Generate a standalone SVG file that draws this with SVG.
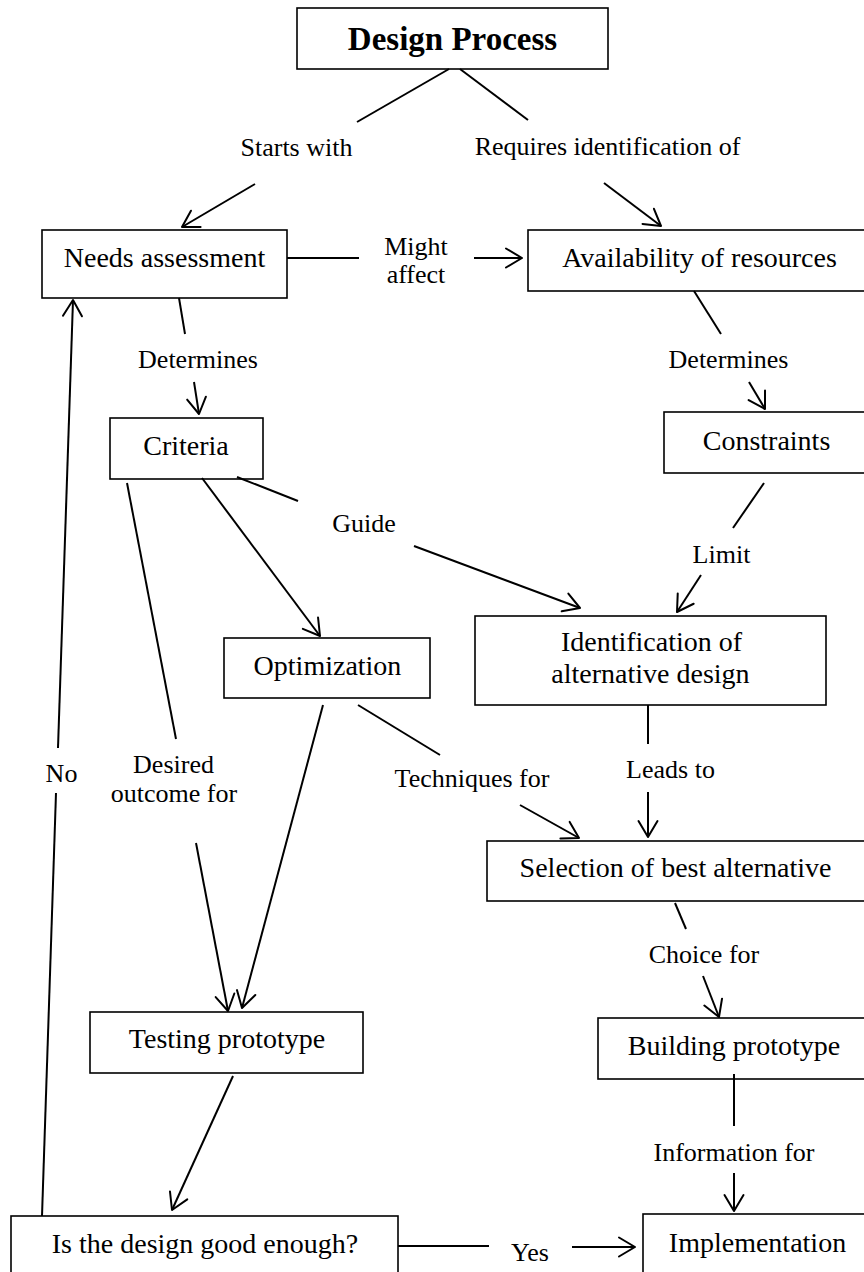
<svg xmlns="http://www.w3.org/2000/svg" width="864" height="1272" viewBox="0 0 864 1272">
<style>
.box{fill:#fff;stroke:#000;stroke-width:1.6}
.nt{font-family:"Liberation Serif","Times New Roman",serif;font-size:28px;fill:#000;text-anchor:middle}
.tt{font-family:"Liberation Serif","Times New Roman",serif;font-size:33px;font-weight:bold;fill:#000;text-anchor:middle}
.lb{font-family:"Liberation Serif","Times New Roman",serif;font-size:26px;fill:#000;text-anchor:middle}
.c line{stroke:#000;stroke-width:2;fill:none}
.c line.a{marker-end:url(#ah)}
</style>
<defs>
<marker id="ah" markerUnits="userSpaceOnUse" viewBox="-20 -12 24 24" refX="0" refY="0" markerWidth="24" markerHeight="24" orient="auto">
<path d="M-16,-9.5 L0,0 L-16,9.5" fill="none" stroke="#000" stroke-width="2" stroke-linejoin="round" stroke-linecap="round"/>
</marker>
</defs>
<rect width="864" height="1272" fill="#fff"/>
<g id="n-design"><rect class="box" x="297" y="8" width="311" height="61"/><text class="tt" x="452.5" y="50">Design Process</text></g>
<g id="n-needs"><rect class="box" x="42" y="230" width="245" height="68"/><text class="nt" x="164.5" y="267">Needs assessment</text></g>
<g id="n-avail"><rect class="box" x="528" y="230" width="342" height="61"/><text class="nt" x="699.5" y="267">Availability of resources</text></g>
<g id="n-criteria"><rect class="box" x="110" y="418" width="153" height="61"/><text class="nt" x="186" y="455">Criteria</text></g>
<g id="n-constraints"><rect class="box" x="664" y="412" width="206" height="61"/><text class="nt" x="766.5" y="450">Constraints</text></g>
<g id="n-optimization"><rect class="box" x="224" y="638" width="206" height="60"/><text class="nt" x="327.5" y="675">Optimization</text></g>
<g id="n-identification"><rect class="box" x="475" y="616" width="351" height="89"/><text class="nt" x="651.5" y="651">Identification of</text><text class="nt" x="650.5" y="683">alternative design</text></g>
<g id="n-selection"><rect class="box" x="487" y="841" width="383" height="60"/><text class="nt" x="675.5" y="877">Selection of best alternative</text></g>
<g id="n-testing"><rect class="box" x="90" y="1012" width="273" height="61"/><text class="nt" x="227" y="1048">Testing prototype</text></g>
<g id="n-building"><rect class="box" x="598" y="1018" width="272" height="61"/><text class="nt" x="734" y="1055">Building prototype</text></g>
<g id="n-isgood"><rect class="box" x="11" y="1216" width="387" height="64"/><text class="nt" x="205" y="1253">Is the design good enough?</text></g>
<g id="n-implementation"><rect class="box" x="643" y="1214" width="227" height="66"/><text class="nt" x="757.5" y="1252">Implementation</text></g>
<g id="connectors" class="c">
<line x1="449" y1="69" x2="357" y2="122"/>
<line class="a" x1="255" y1="184" x2="182" y2="227"/>
<line x1="460" y1="69" x2="528" y2="120"/>
<line class="a" x1="604" y1="183" x2="661" y2="226"/>
<line x1="287" y1="258" x2="359" y2="258"/>
<line class="a" x1="474" y1="258" x2="522" y2="258"/>
<line x1="179" y1="298" x2="185" y2="334"/>
<line class="a" x1="194" y1="382" x2="199" y2="414"/>
<line x1="694" y1="291" x2="721" y2="334"/>
<line class="a" x1="749" y1="382" x2="765" y2="409"/>
<line x1="764" y1="483" x2="733" y2="528"/>
<line class="a" x1="701" y1="575" x2="677" y2="612"/>
<line x1="237" y1="477" x2="298" y2="501"/>
<line class="a" x1="414" y1="546" x2="580" y2="608"/>
<line class="a" x1="202" y1="478" x2="320" y2="636"/>
<line x1="127" y1="483" x2="176" y2="739"/>
<line class="a" x1="196" y1="843" x2="228" y2="1011"/>
<line class="a" x1="323" y1="705" x2="242" y2="1008"/>
<line x1="358" y1="705" x2="440" y2="755"/>
<line class="a" x1="520" y1="805" x2="579" y2="838"/>
<line x1="648" y1="705" x2="648" y2="744"/>
<line class="a" x1="648" y1="792" x2="648" y2="837"/>
<line x1="675" y1="903" x2="686" y2="929"/>
<line class="a" x1="703" y1="976" x2="719" y2="1017"/>
<line x1="734" y1="1074" x2="734" y2="1126"/>
<line class="a" x1="734" y1="1173" x2="734" y2="1211"/>
<line x1="398" y1="1246" x2="489" y2="1246"/>
<line class="a" x1="572" y1="1247" x2="635" y2="1247"/>
<line class="a" x1="233" y1="1076" x2="172" y2="1210"/>
<line x1="42" y1="1216" x2="56" y2="793"/>
<line class="a" x1="58" y1="748" x2="73" y2="300"/>
</g>
<g id="labels">
<text class="lb" x="296.5" y="156">Starts with</text>
<text class="lb" x="607.5" y="155">Requires identification of</text>
<text class="lb" x="416" y="255">Might</text>
<text class="lb" x="416" y="283">affect</text>
<text class="lb" x="198" y="368">Determines</text>
<text class="lb" x="728.5" y="368">Determines</text>
<text class="lb" x="364" y="532">Guide</text>
<text class="lb" x="721.5" y="563">Limit</text>
<text class="lb" x="61.5" y="782">No</text>
<text class="lb" x="173.5" y="773">Desired</text>
<text class="lb" x="174" y="802">outcome for</text>
<text class="lb" x="472" y="787">Techniques for</text>
<text class="lb" x="670.5" y="778">Leads to</text>
<text class="lb" x="704" y="963">Choice for</text>
<text class="lb" x="734" y="1161">Information for</text>
<text class="lb" x="530" y="1261">Yes</text>
</g>
</svg>
